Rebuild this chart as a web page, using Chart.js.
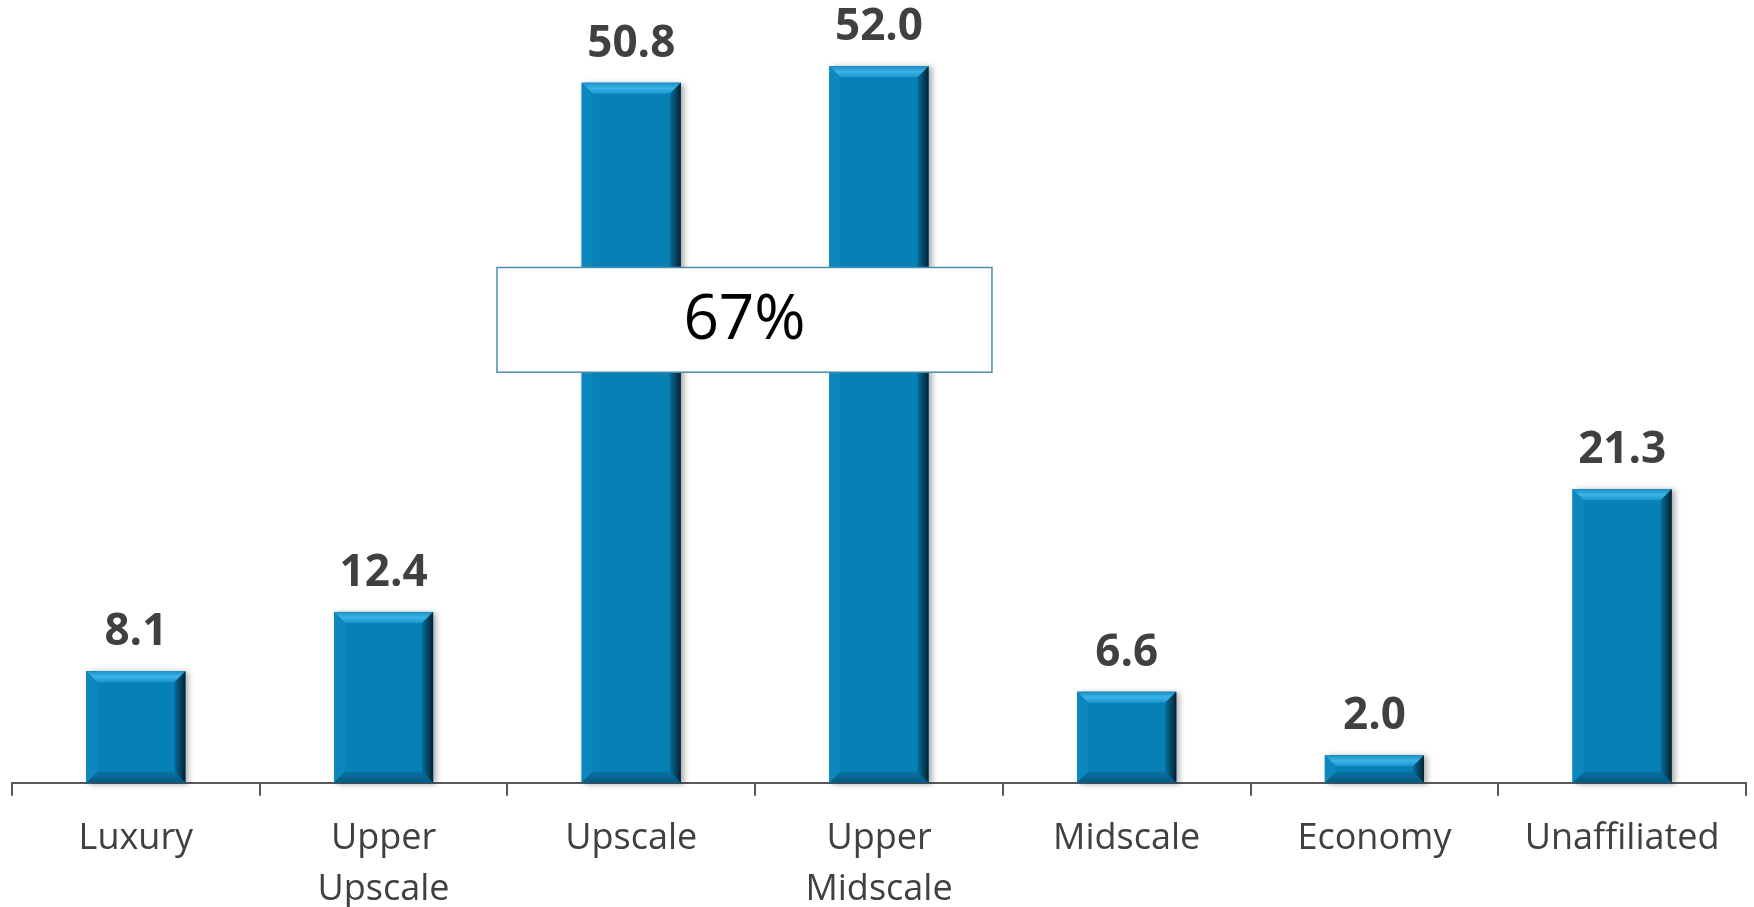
<!DOCTYPE html>
<html lang="en">
<head>
  <meta charset="UTF-8">
  <title>Rooms by chain scale</title>
  <script src="https://cdn.jsdelivr.net/npm/chart.js"></script>
  <style>
    html, body { margin: 0; padding: 0; background: #fff; }
    .chart-wrap { position: relative; width: 1754px; height: 907px; }
  </style>
</head>
<body>
  <div class="chart-wrap">
    <canvas id="scaleChart"></canvas>
  </div>

  <script>
    // Chain scale categories and their values
    const categories = [
      'Luxury',
      ['Upper', 'Upscale'],
      'Upscale',
      ['Upper', 'Midscale'],
      'Midscale',
      'Economy',
      'Unaffiliated'
    ];
    const values = [8.1, 12.4, 50.8, 52.0, 6.6, 2.0, 21.3];

    // Share callout spanning Upscale / Upper Midscale
    const calloutText = '67%';
    const calloutX = [1.458, 3.456];   // category index units
    const calloutY = [29.8, 37.4];     // value units

    const BAR_BLUE = '#0780b6';

    // Beveled look for each bar: drop shadow underneath, edges on top
    const bevelPlugin = {
      id: 'bevel',
      beforeDatasetsDraw(chart) {
        const ctx = chart.ctx;
        chart.getDatasetMeta(0).data.forEach(bar => {
          const l = bar.x - bar.width / 2, t = bar.y;
          ctx.save();
          ctx.shadowColor = 'rgba(0,0,0,0.35)';
          ctx.shadowBlur = 6;
          ctx.shadowOffsetX = 3;
          ctx.shadowOffsetY = 1;
          ctx.fillStyle = BAR_BLUE;
          ctx.fillRect(l, t, bar.width, bar.base - t);
          ctx.restore();
        });
      },
      afterDatasetsDraw(chart) {
        const ctx = chart.ctx;
        chart.getDatasetMeta(0).data.forEach(bar => {
          const l = bar.x - bar.width / 2, r = bar.x + bar.width / 2;
          const t = bar.y, b = bar.base;
          const e = Math.min(11, (b - t) / 2);
          ctx.save();
          // top edge
          let g = ctx.createLinearGradient(0, t, 0, t + e);
          g.addColorStop(0, '#1c8fc4');
          g.addColorStop(0.5, '#3ab4e8');
          g.addColorStop(1, '#1896cc');
          ctx.fillStyle = g;
          ctx.beginPath();
          ctx.moveTo(l, t); ctx.lineTo(r, t); ctx.lineTo(r - e, t + e); ctx.lineTo(l + e, t + e);
          ctx.closePath(); ctx.fill();
          // left edge
          ctx.fillStyle = '#0d88bf';
          ctx.beginPath();
          ctx.moveTo(l, t); ctx.lineTo(l + e, t + e); ctx.lineTo(l + e, b - e); ctx.lineTo(l, b);
          ctx.closePath(); ctx.fill();
          // bottom edge
          g = ctx.createLinearGradient(0, b - e, 0, b);
          g.addColorStop(0, '#0874a5');
          g.addColorStop(1, '#05577e');
          ctx.fillStyle = g;
          ctx.beginPath();
          ctx.moveTo(l, b); ctx.lineTo(l + e, b - e); ctx.lineTo(r - e, b - e); ctx.lineTo(r, b);
          ctx.closePath(); ctx.fill();
          // right edge
          g = ctx.createLinearGradient(r - e, 0, r, 0);
          g.addColorStop(0, '#076d9c');
          g.addColorStop(1, '#04222f');
          ctx.fillStyle = g;
          ctx.beginPath();
          ctx.moveTo(r, t); ctx.lineTo(r, b); ctx.lineTo(r - e, b - e); ctx.lineTo(r - e, t + e);
          ctx.closePath(); ctx.fill();
          ctx.restore();
        });
      }
    };

    // Value labels above bars and the share callout box
    const labelPlugin = {
      id: 'labels',
      afterDraw(chart) {
        const ctx = chart.ctx;
        const xs = chart.scales.x, ys = chart.scales.y;
        ctx.save();
        ctx.font = 'bold 44px "Open Sans"';
        ctx.fillStyle = '#404040';
        ctx.textAlign = 'center';
        ctx.textBaseline = 'alphabetic';
        chart.getDatasetMeta(0).data.forEach((bar, i) => {
          ctx.fillText(values[i].toFixed(1), bar.x, bar.y - 26);
        });

        const x0 = xs.getPixelForValue(calloutX[0]);
        const x1 = xs.getPixelForValue(calloutX[1]);
        const y0 = ys.getPixelForValue(calloutY[1]);
        const y1 = ys.getPixelForValue(calloutY[0]);
        ctx.fillStyle = '#ffffff';
        ctx.fillRect(x0, y0, x1 - x0, y1 - y0);
        ctx.strokeStyle = '#4a8cae';
        ctx.lineWidth = 1.5;
        ctx.strokeRect(x0, y0, x1 - x0, y1 - y0);
        ctx.fillStyle = '#000000';
        ctx.font = '62px "Open Sans"';
        ctx.textBaseline = 'middle';
        ctx.fillText(calloutText, (x0 + x1) / 2, (y0 + y1) / 2 + 2);
        ctx.restore();
      }
    };

    const ctx = document.getElementById('scaleChart').getContext('2d');
    new Chart(ctx, {
      type: 'bar',
      data: {
        labels: categories,
        datasets: [{
          data: values,
          backgroundColor: BAR_BLUE,
          borderWidth: 0,
          categoryPercentage: 1,
          barPercentage: 0.4
        }]
      },
      options: {
        responsive: true,
        maintainAspectRatio: false,
        animation: false,
        layout: { padding: { top: 25, left: 12, right: 8, bottom: -25 } },
        plugins: {
          legend: { display: false },
          tooltip: { enabled: false }
        },
        scales: {
          x: {
            grid: {
              offset: true,
              drawOnChartArea: false,
              drawTicks: true,
              tickLength: 13,
              color: '#595959',
              lineWidth: 2
            },
            border: { display: true, color: '#595959', width: 2 },
            ticks: {
              color: '#404040',
              font: { family: '"Open Sans"', size: 36, lineHeight: 1.42 },
              padding: 17,
              maxRotation: 0,
              autoSkip: false
            }
          },
          y: {
            display: false,
            min: 0,
            max: 55
          }
        }
      },
      plugins: [bevelPlugin, labelPlugin]
    });
  </script>
</body>
</html>
